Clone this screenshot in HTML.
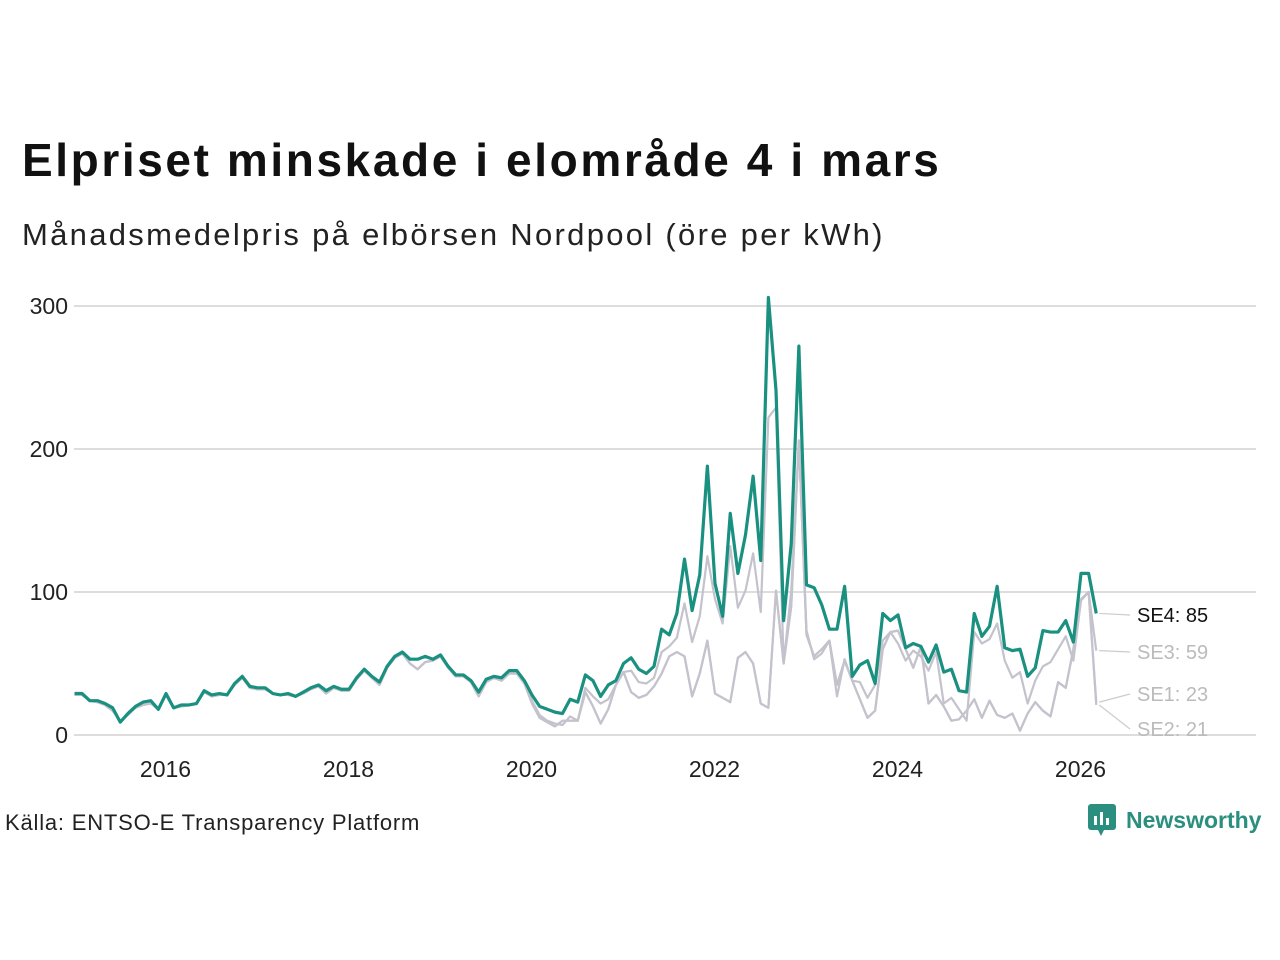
<!DOCTYPE html>
<html><head><meta charset="utf-8"><style>
body{margin:0;background:#fff;font-family:"Liberation Sans",sans-serif}
#wrap{position:relative;width:1280px;height:960px;overflow:hidden}
</style></head><body>
<div id="wrap">
<div style="position:absolute;left:22px;top:133px;font-size:46px;letter-spacing:2.6px;font-weight:bold;color:#111;white-space:nowrap">Elpriset minskade i elområde 4 i mars</div>
<div style="position:absolute;left:22px;top:217px;font-size:31px;letter-spacing:2.3px;color:#222;white-space:nowrap">Månadsmedelpris på elbörsen Nordpool (öre per kWh)</div>
<div style="position:absolute;left:5px;top:810px;font-size:22px;letter-spacing:0.8px;color:#222;white-space:nowrap">Källa: ENTSO-E Transparency Platform</div>
<div style="position:absolute;left:1088px;top:802px;height:36px;display:flex;align-items:center">
<svg width="30" height="36" viewBox="0 0 30 36"><rect x="0" y="2" width="28" height="26" rx="3" fill="#2a8f7f"/><polygon points="10,28 16,28 13,34" fill="#2a8f7f"/><rect x="6" y="14" width="3" height="9" fill="#fff"/><rect x="12" y="10" width="3" height="13" fill="#fff"/><rect x="18" y="16" width="3" height="7" fill="#fff"/></svg>
<span style="font-size:23px;font-weight:bold;color:#2a8f7f;margin-left:8px">Newsworthy</span></div>
<svg id="chart" width="1280" height="960" style="position:absolute;left:0;top:0"></svg>
</div>
<script>
const yTicks=[0,100,200,300];
const xTickYears=[2016,2018,2020,2022,2024,2026];
const se4=[29,29,24,24,22,19,9,15,20,23,24,18,
29,19,21,21,22,31,28,29,28,36,41,34,
33,33,29,28,29,27,30,33,35,31,34,32,
32,40,46,41,37,48,55,58,53,53,55,53,
56,48,42,42,38,30,39,41,40,45,45,38,
28,20,18,16,15,25,23,42,38,27,35,38,
50,54,46,43,48,74,70,85,123,87,112,188,
106,83,155,113,140,181,122,306,241,80,134,272,
105,103,91,74,74,104,41,49,52,36,85,80,
84,61,64,62,51,63,44,46,31,30,85,69,
76,104,61,59,60,41,47,73,72,72,80,65,
113,113,85];
const se3=[28,28,24,23,21,17,10,14,19,21,22,18,
28,19,20,21,22,30,27,28,28,35,40,33,
32,32,29,28,28,27,29,32,34,29,33,31,
31,39,45,40,35,47,54,57,50,46,51,52,
55,47,41,41,37,27,37,40,38,43,43,36,
24,14,10,8,7,13,10,33,27,22,25,35,
44,45,37,36,40,58,62,68,92,65,83,125,
95,78,132,89,101,127,86,222,229,50,101,206,
73,53,57,66,27,53,38,37,26,35,66,72,
64,52,59,55,45,58,22,26,18,10,72,64,
67,78,52,40,44,22,38,48,51,60,69,52,
94,100,59];
const se1=[28,28,24,23,21,17,10,14,19,21,22,18,
28,19,20,21,22,30,27,28,28,35,40,33,
32,32,29,28,28,27,29,32,34,29,33,31,
31,39,45,40,35,47,54,57,50,46,51,52,
55,47,41,41,37,27,37,40,38,43,43,36,
22,12,9,6,10,10,10,30,20,8,18,35,
44,30,26,28,34,43,55,58,55,27,43,66,
29,26,23,54,58,50,22,19,101,50,90,206,
70,55,60,66,35,52,38,25,12,17,60,72,
73,60,47,62,22,28,20,10,11,17,25,12,
24,14,12,15,3,15,23,17,13,37,33,60,
95,100,23];
const se2=se1.slice(0,se1.length-1).concat([21]);
const NS='http://www.w3.org/2000/svg';
const svg=document.getElementById('chart');
const x0=74.5, pxPerMonth=7.625, y0=735, pxPerUnit=1.43;
function xScale(i){return x0+i*pxPerMonth;}
function yScale(v){return y0-v*pxPerUnit;}
function mk(tag,attrs){const e=document.createElementNS(NS,tag);for(const k in attrs)e.setAttribute(k,attrs[k]);svg.appendChild(e);return e;}
yTicks.forEach(t=>{
 const l=mk('line',{x1:74,x2:1256,y1:yScale(t),y2:yScale(t),stroke:'#dddddd','stroke-width':2});
 
 
 const tx=mk('text',{x:68,y:yScale(t)+8,'text-anchor':'end','font-size':23,fill:'#222','font-family':'Liberation Sans, sans-serif'});
 tx.textContent=t;
 
 
});
xTickYears.forEach(yr=>{
 const i=(yr-2015)*12;
 const tx=mk('text',{x:xScale(i)-0.5,y:777,'text-anchor':'middle','font-size':23,fill:'#222','font-family':'Liberation Sans, sans-serif'});
 tx.textContent=yr;
 
 
});
function line(data,color,w,name){
 const p=mk('polyline',{points:data.map((v,i)=>xScale(i)+','+yScale(v)).join(' '),fill:'none',stroke:color,'stroke-width':w,'stroke-linejoin':'round'});
 
 
}
line(se2,'#c4c2cc',2.2,'series-se2');
line(se1,'#c4c2cc',2.2,'series-se1');
line(se3,'#c4c2cc',2.2,'series-se3');
line(se4,'#1a9080',3.2,'series-se4');
const labels=[['SE4',se4,615,'#111'],['SE3',se3,652,'#bbb'],['SE1',se1,694,'#bbb'],['SE2',se2,729,'#bbb']];
labels.forEach(([n,d,ly,c])=>{
 const last=d.length-1, v=d[last];
 const l=mk('line',{x1:xScale(last)+3,y1:yScale(v),x2:1130,y2:ly,stroke:'#ccc','stroke-width':1.2});
 
 
 const t=mk('text',{x:1137,y:ly+7,'font-size':20,fill:c,'font-family':'Liberation Sans, sans-serif'});
 t.textContent=n+': '+v;
 
 
});
</script>
</body></html>
